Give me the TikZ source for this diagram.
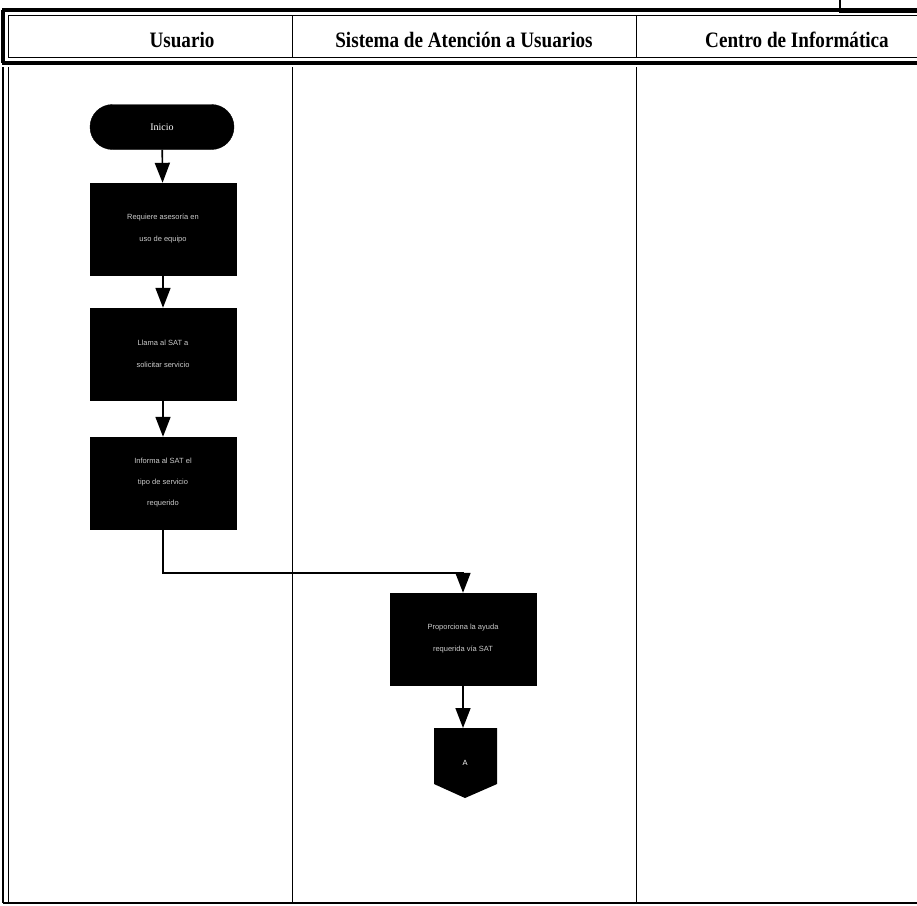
\documentclass[tikz,border=0pt]{standalone}
\usepackage{fontspec}
\setmainfont{Liberation Serif}
\newfontfamily\boxfont{Liberation Sans}
\usetikzlibrary{arrows.meta,shapes.misc}
\begin{document}
\begin{tikzpicture}[x=1pt,y=-1pt,
  lanehead/.style={font=\fontsize{22}{26}\selectfont\bfseries, xscale=0.87, inner sep=0pt},
  procbox/.style={draw=black, fill=black, minimum width=146pt, minimum height=92pt,
    text=white!80!black, font=\boxfont\fontsize{7.5}{22}\selectfont, align=center, inner sep=0pt},
  term/.style={draw=black, fill=black, rounded rectangle, minimum width=144pt, minimum height=45pt,
    text=white, font=\fontsize{10}{12}\selectfont, inner sep=0pt},
  flow/.style={line width=1.6pt, -{Triangle[length=20pt,width=15pt]}}]
\useasboundingbox (0,0) rectangle (917,905);

% header band with its double frame
\draw[line width=4pt] (2,10) -- (930,10);
\draw[line width=4pt] (3,10) -- (3,63);
\draw[line width=4pt] (2,63) -- (930,63);
\draw[line width=0.9pt] (8,15) -- (930,15);
\draw[line width=0.9pt] (8,15) -- (8,57);
\draw[line width=0.9pt] (8,57) -- (930,57);

% small box at the top right corner
\draw[line width=2pt] (840,-2) -- (840,12) -- (930,12);

% lane body
\draw[line width=2pt] (3,67) -- (3,903);
\draw[line width=0.8pt] (8,67) -- (8,903);
\draw[line width=1.6pt] (3,903) -- (917,903);
\draw[line width=1pt] (292,15) -- (292,57);
\draw[line width=1pt] (636,15) -- (636,57);
\draw[line width=1pt] (292,67) -- (292,903);
\draw[line width=1pt] (636,67) -- (636,903);

% lane titles
\node[lanehead] (hU) at (182,40) {Usuario};
\node[lanehead] (hS) at (464,40) {Sistema de Atención a Usuarios};
\node[lanehead] (hC) at (797,40) {Centro de Informática};

% flow of the Usuario lane
\node[term] (ini) at (162,127) {Inicio};
\node[procbox] (p1) at (163,229) {Requiere asesoría en\\uso de equipo};
\node[procbox] (p2) at (163,354) {Llama al SAT a\\solicitar servicio};
\node[procbox, font=\boxfont\fontsize{7.5}{21}\selectfont] (p3) at (163,483) {Informa al SAT el\\tipo de servicio\\requerido};

% Sistema de Atención lane
\node[procbox] (p4) at (463,639) {Proporciona la ayuda\\requerida vía SAT};

% off-page connector
\coordinate (cA) at (465,763);
\fill[black] (434,728) -- (497,728) -- (497,784) -- (465,798) -- (434,784) -- cycle;
\node[text=white, font=\boxfont\fontsize{7.5}{8}\selectfont] (lblA) at (cA) {A};
\coordinate (cAtop) at (463,728);

% connectors
\draw[flow] (ini) -- (p1);
\draw[flow] (p1) -- (p2);
\draw[flow] (p2) -- (p3);
\coordinate (bend1) at (163,573);
\coordinate (bend2) at (463,573);
\draw[flow] (p3.south) -- (bend1) -- (bend2) -- (p4.north);
\draw[flow] (p4.south) -- (cAtop);
\end{tikzpicture}
\end{document}
